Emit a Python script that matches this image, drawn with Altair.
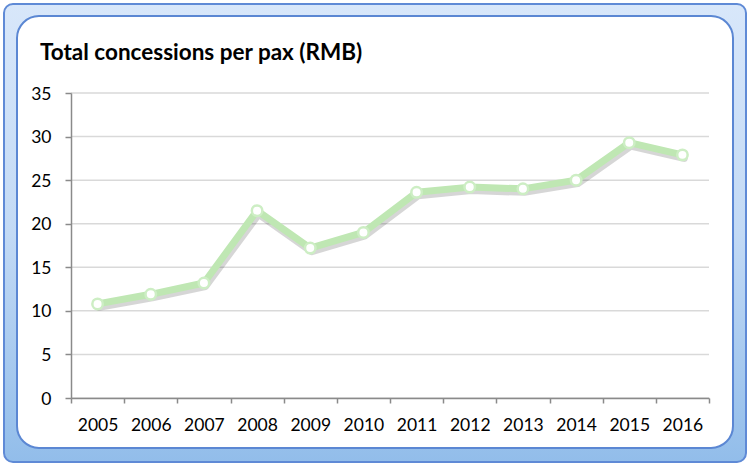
import altair as alt
import pandas as pd

# ---- data ----
years = ["2005", "2006", "2007", "2008", "2009", "2010",
         "2011", "2012", "2013", "2014", "2015", "2016"]
values = [10.8, 11.9, 13.2, 21.5, 17.2, 19.0, 23.6, 24.2, 24.0, 25.0, 29.3, 27.9]
y_ticks = [0, 5, 10, 15, 20, 25, 30, 35]
title_text = "Total concessions per pax (RMB)"

W, H = 638, 305
FONT = "Lato"

df = pd.DataFrame({"year": years, "value": values})
grid_df = pd.DataFrame({"value": y_ticks})
one = pd.DataFrame({"k": [0]})

yscale = alt.Scale(domain=[0, 35], nice=False, zero=True)
xscale = alt.Scale(type="band", paddingInner=0, paddingOuter=0, domain=years)

# ---- decorative frame ----
outer = alt.Chart(one).mark_rect(
    cornerRadius=9,
    fill=alt.Gradient(
        gradient="linear",
        stops=[alt.GradientStop(color="#d8e7fa", offset=0),
               alt.GradientStop(color="#c3daf5", offset=0.5),
               alt.GradientStop(color="#92bdea", offset=1)],
        x1=0, x2=0, y1=0, y2=1),
    stroke="#5f8ad6", strokeWidth=2,
).encode(x=alt.value(-67), x2=alt.value(675), y=alt.value(-89), y2=alt.value(369))

inner = alt.Chart(one).mark_rect(
    cornerRadius=22, fill="white", stroke="#5b87d3", strokeWidth=2,
).encode(x=alt.value(-54), x2=alt.value(662), y=alt.value(-77), y2=alt.value(355))

title = alt.Chart(one).mark_text(
    text=title_text, font=FONT, fontSize=22.5, fontWeight="bold", color="black",
    align="left", baseline="alphabetic",
).encode(x=alt.value(-31), y=alt.value(-33))

# ---- axes definitions ----
xaxis = alt.Axis(
    title=None, tickBand="extent", labelAngle=0, labelFont=FONT, labelFontSize=17.5,
    labelColor="black", domainColor="#8a8a8a", domainWidth=1.5, tickColor="#8a8a8a",
    tickWidth=1.5, tickSize=5, labelPadding=13, grid=False, zindex=1)
yaxis = alt.Axis(
    title=None, values=y_ticks, labelFont=FONT, labelFontSize=17.5, labelColor="black",
    domainColor="#8a8a8a", domainWidth=1.5, tickColor="#8a8a8a", tickWidth=1.5,
    tickSize=6, labelPadding=14, labelOffset=1, grid=False, zindex=1)

# ---- gridlines ----
grid = alt.Chart(grid_df).mark_rule(color="#d9d9d9", strokeWidth=1.5).encode(
    y=alt.Y("value:Q", scale=yscale, axis=yaxis),
    x=alt.value(0), x2=alt.value(W),
)

# ---- series ----
xenc = alt.X("year:O", scale=xscale, sort=years, axis=xaxis)
yenc = alt.Y("value:Q", scale=yscale)

shadow = alt.Chart(df).mark_line(
    color="#000000", opacity=0.16, strokeWidth=8, xOffset=1.5, yOffset=3,
    strokeJoin="round", strokeCap="round",
).encode(x=xenc, y=yenc)

line = alt.Chart(df).mark_line(
    color="#bfe7b3", strokeWidth=7, strokeJoin="round", strokeCap="round",
).encode(x=xenc, y=yenc)

points = alt.Chart(df).mark_point(
    filled=True, fill="white", stroke="#cdeec4", strokeWidth=2.5, size=110, opacity=1,
).encode(x=xenc, y=yenc)

chart = alt.layer(outer, inner, title, grid, shadow, line, points).properties(
    width=W, height=H,
    autosize=alt.AutoSizeParams(type="none"),
    padding={"left": 71, "top": 93, "right": 45, "bottom": 70},
).configure(background="white").configure_view(stroke=None)

chart.save("out.html", embed_options={"renderer": "svg", "actions": False})
